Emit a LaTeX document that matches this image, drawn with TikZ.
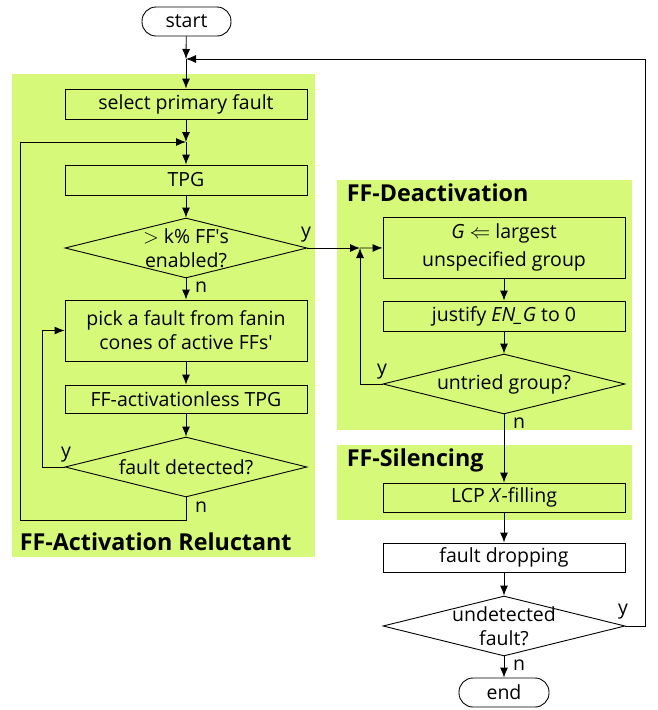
\documentclass[tikz,border=0pt]{standalone}
\usepackage{fontspec}
\setmainfont{Open Sans}
\usetikzlibrary{shapes.geometric,arrows.meta}
\definecolor{grn}{RGB}{214,249,122}
\begin{document}
\begin{tikzpicture}[x=1pt,y=-1pt,
  font=\fontsize{19.5}{24}\selectfont,
  >={Latex[length=10pt,width=8pt]}, line width=0.9pt,
  box/.style={draw, minimum width=242, minimum height=30, inner sep=0pt, align=center},
  term/.style={draw, rounded corners=14pt, minimum width=89, minimum height=29, inner sep=0pt},
  dia/.style={draw, diamond, minimum width=242, minimum height=60, inner sep=0pt},
  ttl/.style={anchor=west, font=\fontsize{23.3}{26}\selectfont\bfseries},
  lbl/.style={inner sep=0pt}]
\useasboundingbox (0,0) rectangle (657,710);
\fill[grn] (12,74) rectangle (315,557);
\fill[grn] (337,180) rectangle (632,430);
\fill[grn] (337,445) rectangle (632,520);

\node[term] (start) at (186.5,21.5) {start};
\coordinate (j1) at (186,59);
\node[box] (sel) at (186,104) {select primary fault};
\coordinate (j2) at (186,142);
\node[box] (tpg) at (186,180) {TPG};
\node[dia] (d1) at (186,248) {};
\node[align=center] (d1t) at (d1) {$>$ k\% FF\textquotesingle s\\enabled?};
\node[box, minimum height=61] (pick) at (186,330.5) {pick a fault from fanin\\cones of active FFs\textquotesingle};
\node[box, minimum height=28] (fat) at (186,399) {FF-activationless TPG};
\node[dia] (d2) at (186,467) {};
\node (d2t) at (d2) {fault detected?};
\node[ttl] (t1) at (16,542) {FF-Activation Reluctant};
\coordinate (ly) at (42,467);
\coordinate (lb) at (20,520);

\node[ttl] (t2) at (343,193) {FF-Deactivation};
\coordinate (j3) at (360,248);
\node[box, minimum height=61, align=center] (g) at (504,247.5) {\textit{G} $\Leftarrow$ largest\\[4pt]unspecified group};
\node[box] (just) at (504,316) {justify \textit{EN\_G} to 0};
\node[dia] (d3) at (504,384) {};
\node (d3t) at (d3) {untried group?};
\node[ttl] (t3) at (343,460) {FF-Silencing};
\node[box, minimum height=29] (lcp) at (504,497.5) {LCP \textit{X}-filling};
\node[box, minimum height=29] (drop) at (504,557.5) {fault dropping};
\node[dia] (d4) at (504,626) {};
\node[align=center] (d4t) at (d4) {undetected\\fault?};
\node[term, minimum width=90] (end) at (504,692.5) {end};
\coordinate (rr) at (645,626);

\draw[->] (start) -- (j1);
\draw[->] (j1) -- (sel);
\draw[->] (sel) -- (j2);
\draw[->] (j2) -- (tpg);
\draw[->] (tpg) -- (d1);
\draw[->] (d1.east) -- (j3);
\draw[->] (j3) -- (g);
\draw[->] (d1) -- (pick);
\draw[->] (pick) -- (fat);
\draw[->] (fat) -- (d2);
\draw[->] (d2.west) -- (ly) |- (pick.west);
\draw[->] (d2.south) |- (lb) |- (j2);
\draw[->] (g) -- (just);
\draw[->] (just) -- (d3);
\draw[->] (d3.west) -| (j3);
\draw[->] (d3) -- (lcp);
\draw[->] (lcp) -- (drop);
\draw[->] (drop) -- (d4);
\draw[->] (d4) -- (end);
\draw[->] (d4.east) -- (rr) |- (j1);

\node[lbl] (y1) at (306,235) {y};
\node[lbl] (n1) at (201,287) {n};
\node[lbl] (y2) at (66,455) {y};
\node[lbl] (n2) at (201,507) {n};
\node[lbl] (y3) at (382,372) {y};
\node[lbl] (n3) at (519,423) {n};
\node[lbl] (y4) at (623,612) {y};
\node[lbl] (n4) at (519,665) {n};
\end{tikzpicture}
\end{document}
